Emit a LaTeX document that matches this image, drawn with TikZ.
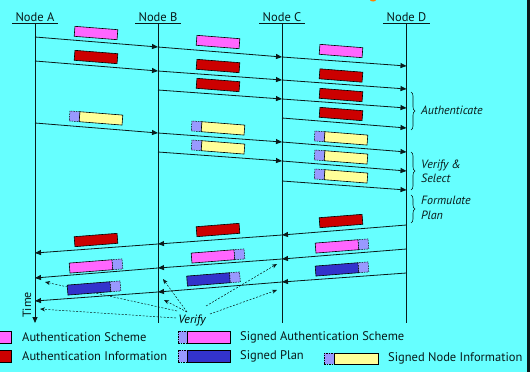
\documentclass[tikz,border=0pt]{standalone}
\usepackage{fontspec}
\setmainfont{PT Sans}
\usetikzlibrary{arrows.meta,decorations.pathreplacing}

\definecolor{bgcyan}{HTML}{66FFFF}
\definecolor{schemepink}{HTML}{FF66FF}
\definecolor{infored}{HTML}{CC0000}
\definecolor{planblue}{HTML}{3333CC}
\definecolor{nodeyellow}{HTML}{FFFF99}
\definecolor{sigpurple}{HTML}{9999FF}
\definecolor{inkdark}{HTML}{0A1A1A}

\tikzset{
  header/.style={anchor=south, inner xsep=3pt, inner ysep=1.5pt, text=inkdark, font=\fontsize{12.5}{14}\selectfont},
  lifeline/.style={draw=inkdark, line width=0.8pt},
  msg/.style={draw=inkdark, line width=0.8pt, -{Triangle[length=6pt,width=5pt]}},
  verifyarrow/.style={draw=inkdark, line width=0.5pt, dash pattern=on 2pt off 1.5pt, -{Stealth[length=5pt,width=4pt]}},
  msgbox/.style={draw=black, line width=0.6pt, minimum width=43pt, minimum height=10pt, inner sep=0pt, outer sep=0pt},
  schemebox/.style={msgbox, fill=schemepink},
  infobox/.style={msgbox, fill=infored},
  planbox/.style={msgbox, fill=planblue},
  nodeinfobox/.style={msgbox, fill=nodeyellow},
  sigsq/.style={draw=black, line width=0.5pt, dash pattern=on 1.5pt off 1pt, fill=sigpurple, minimum width=10pt, minimum height=10pt, inner sep=0pt, outer sep=0pt},
  phase/.style={draw=inkdark, line width=0.6pt, decorate, decoration={brace, amplitude=4pt}},
  phaselabel/.style={anchor=west, align=left, font=\fontsize{12}{14.5}\selectfont\itshape, text=inkdark, inner sep=0pt},
  legendtext/.style={anchor=west, font=\fontsize{12.5}{14}\selectfont, text=inkdark, inner sep=0pt},
  pics/signedleft/.style={code={
    \node[sigsq] (-sig) at (-21.5,0) {};
    \node[#1] (-body) at (5,0) {};}},
  pics/signedright/.style={code={
    \node[#1] (-body) at (-5,0) {};
    \node[sigsq] (-sig) at (21.5,0) {};}},
}

\begin{document}
\begin{tikzpicture}[x=1pt,y=-1pt]
% canvas
\fill[bgcyan] (0,0) rectangle (530,372);
\useasboundingbox (0,0) rectangle (530,372);
\fill[inkdark] (527,0) rectangle (530,372);
\fill[orange] (373,0) ellipse (3 and 1.5);

% node headers
\node[header] (hA) at (35,23) {Node A};
\node[header] (hB) at (158,23) {Node B};
\node[header] (hC) at (282,23) {Node C};
\node[header] (hD) at (406.5,23) {Node D};
\foreach \h in {hA,hB,hC,hD}
  \draw[inkdark, line width=0.8pt] (\h.south west) -- (\h.south east);

% lifeline ends
\coordinate (endA) at (35,323);
\coordinate (endB) at (158,323);
\coordinate (endC) at (282,323);
\coordinate (endD) at (406.5,323);
\draw[lifeline, -{Triangle[length=6pt,width=5pt]}] (hA.south) -- (endA);
\draw[lifeline] (hB.south) -- (endB);
\draw[lifeline] (hC.south) -- (endC);
\draw[lifeline] (hD.south) -- (endD);
\node[rotate=90, text=inkdark, font=\fontsize{12}{14}\selectfont, inner sep=0pt] (time) at (27,305) {Time};

% message points on the lifelines
\coordinate (a1) at (35,37);   \coordinate (b1) at (158,47);  \coordinate (c1) at (282,57);  \coordinate (d1) at (406.5,66);
\coordinate (a2) at (35,61);   \coordinate (b2) at (158,71);  \coordinate (c2) at (282,80);  \coordinate (d2) at (406.5,89);
\coordinate (b3) at (158,90);  \coordinate (c3) at (282,99);  \coordinate (d3) at (406.5,108);
\coordinate (c4) at (282,118); \coordinate (d4) at (406.5,128);
\coordinate (a5) at (35,123);  \coordinate (b5) at (158,133); \coordinate (c5) at (282,142); \coordinate (d5) at (406.5,152);
\coordinate (b6) at (158,152); \coordinate (c6) at (282,161); \coordinate (d6) at (406.5,171);
\coordinate (c7) at (282,181); \coordinate (d7) at (406.5,190);
\coordinate (d8) at (406.5,225); \coordinate (c8) at (282,235); \coordinate (b8) at (158,244); \coordinate (a8) at (35,253);
\coordinate (d9) at (406.5,249); \coordinate (c9) at (282,259); \coordinate (b9) at (158,268); \coordinate (a9) at (35,278);
\coordinate (d10) at (406.5,273); \coordinate (c10) at (282,282); \coordinate (b10) at (158,292); \coordinate (a10) at (35,301);

% forward messages
\draw[msg] (a1) -- (b1); \draw[msg] (b1) -- (c1); \draw[msg] (c1) -- (d1);
\draw[msg] (a2) -- (b2); \draw[msg] (b2) -- (c2); \draw[msg] (c2) -- (d2);
\draw[msg] (b3) -- (c3); \draw[msg] (c3) -- (d3);
\draw[msg] (c4) -- (d4);
\draw[msg] (a5) -- (b5); \draw[msg] (b5) -- (c5); \draw[msg] (c5) -- (d5);
\draw[msg] (b6) -- (c6); \draw[msg] (c6) -- (d6);
\draw[msg] (c7) -- (d7);
% returning messages
\draw[msg] (d8) -- (c8); \draw[msg] (c8) -- (b8); \draw[msg] (b8) -- (a8);
\draw[msg] (d9) -- (c9); \draw[msg] (c9) -- (b9); \draw[msg] (b9) -- (a9);
\draw[msg] (d10) -- (c10); \draw[msg] (c10) -- (b10); \draw[msg] (b10) -- (a10);

% verification
\node[font=\fontsize{12}{14}\selectfont\itshape, text=black, inner sep=0pt] (verify) at (192,320) {Verify};
\coordinate (vA1) at (45,282);  \coordinate (vA2) at (40,309);
\coordinate (vB1) at (163,279); \coordinate (vB2) at (164,300);
\coordinate (vC1) at (277,264); \coordinate (vC2) at (277,290);
\coordinate (sA1) at (177,311); \coordinate (sA2) at (176,318);
\coordinate (sB) at (187,312);
\coordinate (sC1) at (206,306); \coordinate (sC2) at (210,314);
\draw[verifyarrow] (sA1) -- (vA1);
\draw[verifyarrow] (sA2) -- (vA2);
\draw[verifyarrow] (sB) -- (vB1);
\draw[verifyarrow] (sB) -- (vB2);
\draw[verifyarrow] (sC1) -- (vC1);
\draw[verifyarrow] (sC2) -- (vC2);

% payloads of the forward messages
\node[schemebox, rotate=-4.5] (p1ab) at (96,33) {};
\node[schemebox, rotate=-4.5] (p1bc) at (218,42) {};
\node[schemebox, rotate=-4.5] (p1cd) at (341,51) {};
\node[infobox, rotate=-4.5] (p2ab) at (96,57) {};
\node[infobox, rotate=-4.5] (p2bc) at (218,66) {};
\node[infobox, rotate=-4.5] (p2cd) at (341,75.5) {};
\node[infobox, rotate=-4.5] (p3bc) at (218,85) {};
\node[infobox, rotate=-4.5] (p3cd) at (341,95) {};
\node[infobox, rotate=-4.5] (p4cd) at (341,114) {};
\pic[rotate=-4.5, transform shape] (p5ab) at (96,118) {signedleft=nodeinfobox};
\pic[rotate=-4.5, transform shape] (p5bc) at (218,128) {signedleft=nodeinfobox};
\pic[rotate=-4.5, transform shape] (p5cd) at (341,138) {signedleft=nodeinfobox};
\pic[rotate=-4.5, transform shape] (p6bc) at (218,147) {signedleft=nodeinfobox};
\pic[rotate=-4.5, transform shape] (p6cd) at (341,157) {signedleft=nodeinfobox};
\pic[rotate=-4.5, transform shape] (p7cd) at (341,176) {signedleft=nodeinfobox};

% payloads of the returning messages
\node[infobox, rotate=4.5] (p8cd) at (341,221) {};
\node[infobox, rotate=4.5] (p8bc) at (218,230) {};
\node[infobox, rotate=4.5] (p8ab) at (96,240) {};
\pic[rotate=4.5, transform shape] (p9cd) at (342,246) {signedright=schemebox};
\pic[rotate=4.5, transform shape] (p9bc) at (218,256) {signedright=schemebox};
\pic[rotate=4.5, transform shape] (p9ab) at (96,266) {signedright=schemebox};
\pic[rotate=4.5, transform shape] (p10cd) at (342,269) {signedright=planbox};
\pic[rotate=4.5, transform shape] (p10bc) at (213.5,279) {signedright=planbox};
\pic[rotate=4.5, transform shape] (p10ab) at (94,288) {signedright=planbox};

% phases
\coordinate (ph1t) at (411,92);  \coordinate (ph1b) at (411,130);
\coordinate (ph2t) at (411,152); \coordinate (ph2b) at (411,190);
\coordinate (ph3t) at (411,195); \coordinate (ph3b) at (411,223);
\draw[phase] (ph1t) -- (ph1b);
\draw[phase] (ph2t) -- (ph2b);
\draw[phase] (ph3t) -- (ph3b);
\node[phaselabel] (lauth) at (421,110) {Authenticate};
\node[phaselabel] (lsel) at (421,171.5) {Verify \&\\Select};
\node[phaselabel] (lplan) at (421,208) {Formulate\\Plan};

% legend
\node[schemebox, minimum width=12pt, minimum height=12pt] (kscheme) at (5,337) {};
\node[legendtext] (tscheme) at (22,337) {Authentication Scheme};
\node[infobox, minimum width=12pt, minimum height=12pt] (kinfo) at (5,356) {};
\node[legendtext] (tinfo) at (22,356) {Authentication Information};
\node[sigsq, minimum width=9pt, minimum height=12pt] (ksig1) at (182.5,337) {};
\node[schemebox, minimum height=12pt, anchor=west] (ksscheme) at (ksig1.east) {};
\node[legendtext] (tsscheme) at (240,337) {Signed Authentication Scheme};
\node[sigsq, minimum width=9pt, minimum height=12pt] (ksig2) at (182.5,356) {};
\node[planbox, minimum height=12pt, anchor=west] (kplan) at (ksig2.east) {};
\node[legendtext] (tplan) at (240,356) {Signed Plan};
\node[sigsq, minimum width=10pt, minimum height=11pt] (ksig3) at (329,358.5) {};
\node[nodeinfobox, minimum width=44pt, minimum height=11pt, anchor=west] (knode) at (ksig3.east) {};
\node[legendtext] (tnode) at (388,358.5) {Signed Node Information};
\end{tikzpicture}
\end{document}
